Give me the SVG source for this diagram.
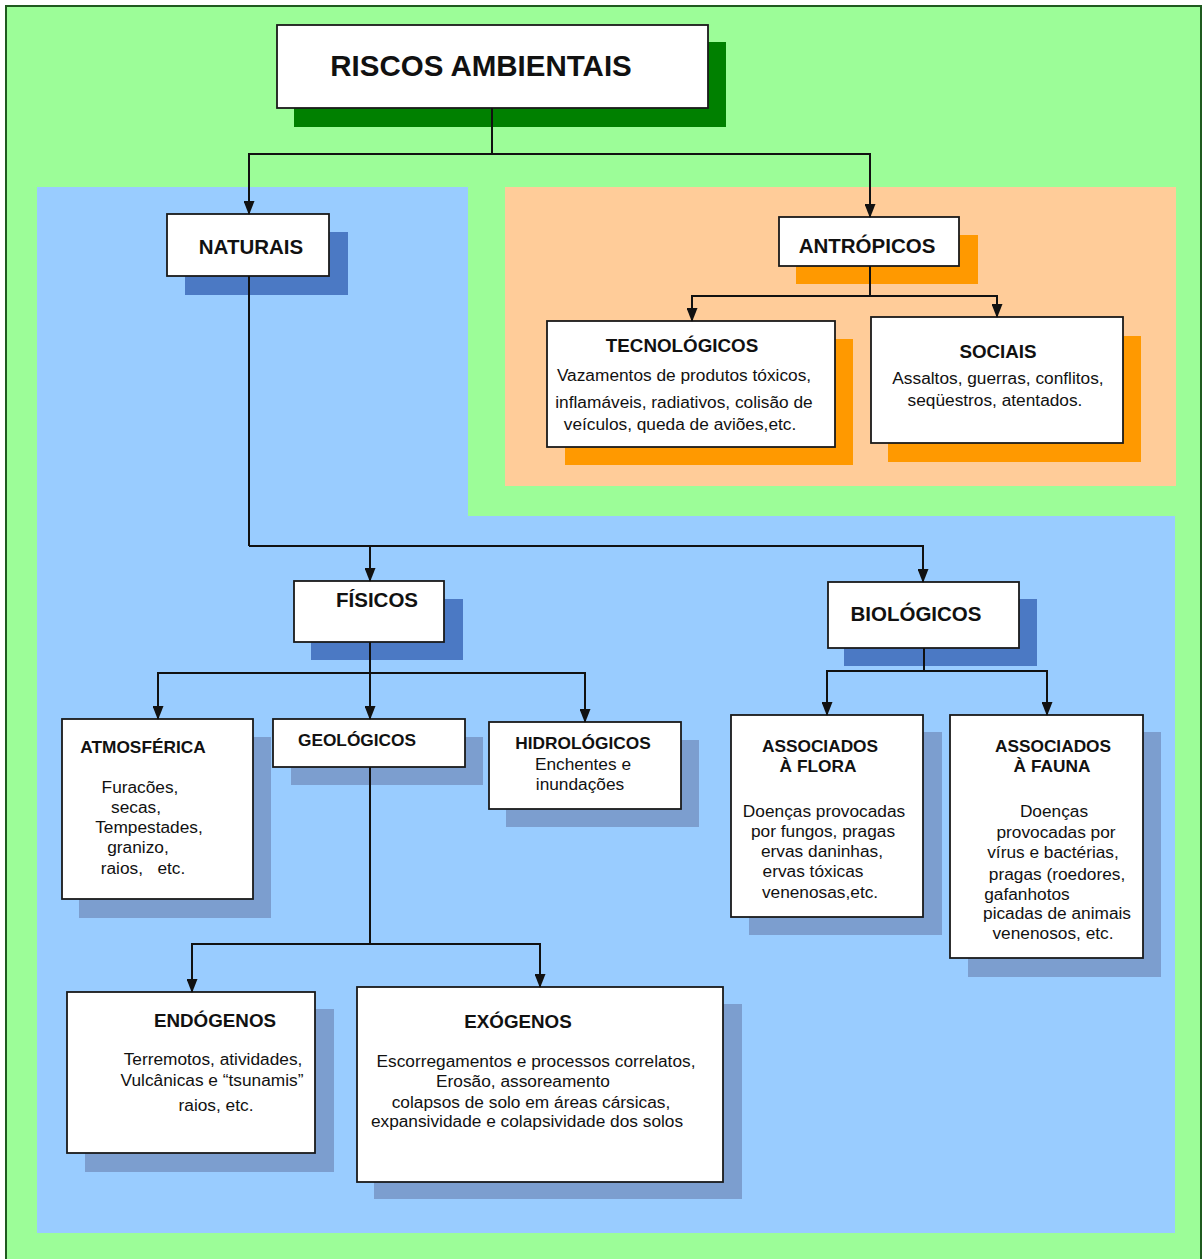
<svg xmlns="http://www.w3.org/2000/svg" width="1204" height="1259" viewBox="0 0 1204 1259">
<style>
.box{fill:#ffffff;stroke:#1a1a1a;stroke-width:1.8}
.shg{fill:#008000}
.shb1{fill:#4B79C4}
.shb2{fill:#7C9ECF}
.sho{fill:#FF9900}
text{font-family:"Liberation Sans",Arial,sans-serif;fill:#111;text-anchor:middle}
.xl{font-size:29.5px;font-weight:bold}
.h20{font-size:20.5px;font-weight:bold}
.h19{font-size:18.8px;font-weight:bold}
.h17{font-size:17.3px;font-weight:bold}
.b{font-size:17.3px}
.conn{fill:none;stroke:#111;stroke-width:2;marker-end:url(#arr)}
.trunk{fill:none;stroke:#111;stroke-width:2}
</style>
<defs>
<marker id="arr" markerUnits="userSpaceOnUse" markerWidth="14" markerHeight="11" viewBox="0 0 14 11" refX="13" refY="5.5" orient="auto">
<path d="M0,0 L14,5.5 L0,11 Z" fill="#111"/>
</marker>
</defs>
<rect x="0" y="0" width="1204" height="1259" fill="#ffffff"/>
<rect id="bg" x="6" y="6" width="1195" height="1262" fill="#9CFD98" stroke="#1f5a1f" stroke-width="2"/>
<path id="region-naturais" d="M37,187 H468 V516 H1175 V1233 H37 Z" fill="#99CCFF"/>
<rect id="region-antropicos" x="505" y="187" width="671" height="299" fill="#FFCC99"/>

<g id="n-riscos">
<rect class="shg" x="294" y="42" width="432" height="85"/>
<rect class="box" x="277" y="25" width="431" height="83"/>
<text class="xl" x="481" y="76">RISCOS AMBIENTAIS</text>
</g>
<g id="n-naturais">
<rect class="shb1" x="185" y="232" width="163" height="63"/>
<rect class="box" x="167" y="214" width="162" height="62"/>
<text class="h20" x="251" y="254">NATURAIS</text>
</g>
<g id="n-antropicos">
<rect class="sho" x="796" y="235" width="182" height="49"/>
<rect class="box" x="779" y="217" width="180" height="49"/>
<text class="h20" x="867" y="253">ANTRÓPICOS</text>
</g>
<g id="n-tecnologicos">
<rect class="sho" x="565" y="339" width="288" height="126"/>
<rect class="box" x="547" y="321" width="288" height="126"/>
<text class="h19" x="682" y="352">TECNOLÓGICOS</text>
<text class="b" x="684" y="381">Vazamentos de produtos tóxicos,</text>
<text class="b" x="684" y="408">inflamáveis, radiativos, colisão de</text>
<text class="b" x="680" y="430">veículos, queda de aviões,etc.</text>
</g>
<g id="n-sociais">
<rect class="sho" x="888" y="336" width="253" height="126"/>
<rect class="box" x="871" y="317" width="252" height="126"/>
<text class="h19" x="998" y="358">SOCIAIS</text>
<text class="b" x="998" y="384">Assaltos, guerras, conflitos,</text>
<text class="b" x="995" y="406">seqüestros, atentados.</text>
</g>
<g id="n-fisicos">
<rect class="shb1" x="311" y="599" width="152" height="61"/>
<rect class="box" x="294" y="581" width="150" height="61"/>
<text class="h20" x="377" y="607">FÍSICOS</text>
</g>
<g id="n-biologicos">
<rect class="shb1" x="844" y="599" width="193" height="67"/>
<rect class="box" x="828" y="582" width="191" height="66"/>
<text class="h20" x="916" y="621">BIOLÓGICOS</text>
</g>
<g id="n-atmosferica">
<rect class="shb2" x="79" y="737" width="192" height="181"/>
<rect class="box" x="62" y="719" width="191" height="180"/>
<text class="h17" x="143" y="753">ATMOSFÉRICA</text>
<text class="b" x="140" y="793">Furacões,</text>
<text class="b" x="136" y="813">secas,</text>
<text class="b" x="149" y="833">Tempestades,</text>
<text class="b" x="138" y="853">granizo,</text>
<text class="b" x="143" y="874" xml:space="preserve">raios,   etc.</text>
</g>
<g id="n-geologicos">
<rect class="shb2" x="291" y="737" width="192" height="48"/>
<rect class="box" x="273" y="719" width="192" height="48"/>
<text class="h17" x="357" y="746">GEOLÓGICOS</text>
</g>
<g id="n-hidrologicos">
<rect class="shb2" x="506" y="740" width="193" height="87"/>
<rect class="box" x="489" y="722" width="192" height="87"/>
<text class="h17" x="583" y="749">HIDROLÓGICOS</text>
<text class="b" x="583" y="770">Enchentes e</text>
<text class="b" x="580" y="790">inundações</text>
</g>
<g id="n-flora">
<rect class="shb2" x="749" y="732" width="193" height="203"/>
<rect class="box" x="731" y="715" width="192" height="202"/>
<text class="h17" x="820" y="752">ASSOCIADOS</text>
<text class="h17" x="818" y="772">À FLORA</text>
<text class="b" x="824" y="817">Doenças provocadas</text>
<text class="b" x="823" y="837">por fungos, pragas</text>
<text class="b" x="822" y="857">ervas daninhas,</text>
<text class="b" x="813" y="877">ervas tóxicas</text>
<text class="b" x="820" y="898">venenosas,etc.</text>
</g>
<g id="n-fauna">
<rect class="shb2" x="968" y="732" width="193" height="245"/>
<rect class="box" x="950" y="715" width="193" height="243"/>
<text class="h17" x="1053" y="752">ASSOCIADOS</text>
<text class="h17" x="1052" y="772">À FAUNA</text>
<text class="b" x="1054" y="817">Doenças</text>
<text class="b" x="1056" y="838">provocadas por</text>
<text class="b" x="1053" y="858">vírus e bactérias,</text>
<text class="b" x="1057" y="880">pragas (roedores,</text>
<text class="b" x="1027" y="900">gafanhotos</text>
<text class="b" x="1057" y="919">picadas de animais</text>
<text class="b" x="1053" y="939">venenosos, etc.</text>
</g>
<g id="n-endogenos">
<rect class="shb2" x="85" y="1009" width="249" height="163"/>
<rect class="box" x="67" y="992" width="248" height="161"/>
<text class="h19" x="215" y="1027">ENDÓGENOS</text>
<text class="b" x="213" y="1065">Terremotos, atividades,</text>
<text class="b" x="212" y="1086">Vulcânicas e “tsunamis”</text>
<text class="b" x="216" y="1111">raios, etc.</text>
</g>
<g id="n-exogenos">
<rect class="shb2" x="374" y="1004" width="368" height="195"/>
<rect class="box" x="357" y="987" width="366" height="195"/>
<text class="h19" x="518" y="1028">EXÓGENOS</text>
<text class="b" x="536" y="1067">Escorregamentos e processos correlatos,</text>
<text class="b" x="523" y="1087">Erosão, assoreamento</text>
<text class="b" x="531" y="1108">colapsos de solo em áreas cársicas,</text>
<text class="b" x="527" y="1127">expansividade e colapsividade dos solos</text>
</g>

<g id="connectors">
<path class="trunk" d="M492,108 V154"/>
<path class="conn" d="M492,154 H249 V214"/>
<path class="conn" d="M492,154 H870 V217"/>
<path class="trunk" d="M870,266 V296"/>
<path class="conn" d="M870,296 H692 V321"/>
<path class="conn" d="M870,296 H997 V317"/>
<path class="trunk" d="M249,276 V546"/>
<path class="conn" d="M249,546 H370 V581"/>
<path class="conn" d="M370,546 H923 V582"/>
<path class="trunk" d="M370,642 V673"/>
<path class="conn" d="M370,673 H158 V719"/>
<path class="conn" d="M370,673 V719"/>
<path class="conn" d="M370,673 H585 V722"/>
<path class="trunk" d="M924,648 V671"/>
<path class="conn" d="M924,671 H827 V715"/>
<path class="conn" d="M924,671 H1047 V715"/>
<path class="trunk" d="M370,767 V944"/>
<path class="conn" d="M370,944 H192 V992"/>
<path class="conn" d="M370,944 H540 V987"/>
</g>
</svg>
